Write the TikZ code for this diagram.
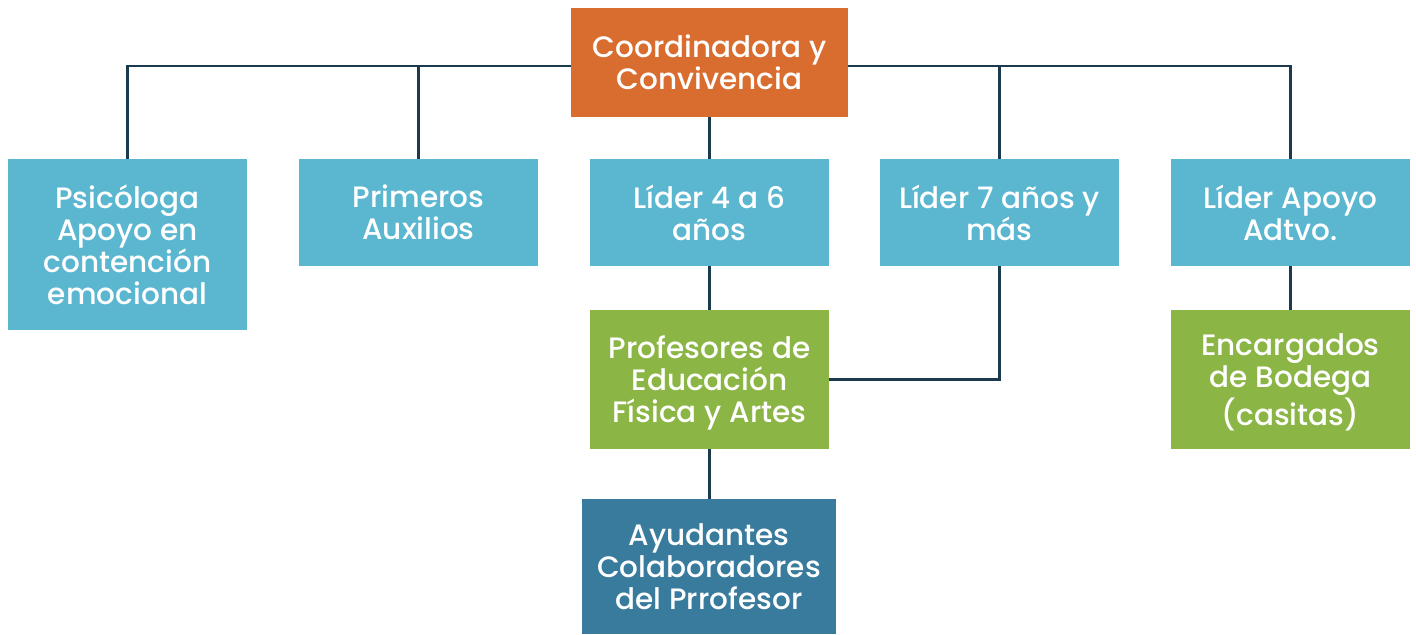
\documentclass[tikz,border=0pt]{standalone}
\usepackage{fontspec}
\setmainfont{Poppins}[UprightFont=* Medium]
\definecolor{cOrange}{HTML}{D96D2F}
\definecolor{cLight}{HTML}{5BB6D0}
\definecolor{cGreen}{HTML}{8BB545}
\definecolor{cDark}{HTML}{387B9C}
\definecolor{cLine}{HTML}{1C3A4E}
\begin{document}
\begin{tikzpicture}[x=0.02cm,y=-0.02cm,
  box/.style={rectangle, inner sep=0pt, align=center, text=white,
    font=\fontsize{16.8pt}{18.2pt}\selectfont, minimum width=4.78cm},
  lbox/.style={box, fill=cLight, minimum height=2.14cm},
  gbox/.style={box, text depth=-3pt, fill=cGreen, minimum height=2.78cm},
  conn/.style={draw=cLine, line width=1.4pt}]
\useasboundingbox (0,0) rectangle (1416,635);
\node[box, fill=cOrange, minimum width=5.54cm, minimum height=2.18cm] (coord) at (709.5,62.5) {Coordinadora y\\Convivencia};
\node[box, fill=cLight, minimum height=3.42cm] (psi) at (127.5,244.5) {Psicóloga\\Apoyo en\\contención\\emocional};
\node[lbox] (prim) at (418.5,212.5) {Primeros\\Auxilios};
\node[lbox] (l4) at (709.5,212.5) {Líder 4 a 6\\años};
\node[lbox] (l7) at (999.5,212.5) {Líder 7 años y\\más};
\node[lbox] (ap) at (1290.5,212.5) {Líder Apoyo\\Adtvo.};
\node[gbox] (prof) at (709.5,379.5) {Profesores de\\Educación\\Física y Artes};
\node[gbox] (enc) at (1290.5,379.5) {Encargados\\de Bodega\\(casitas)};
\node[box, text depth=-4.5pt, fill=cDark, minimum width=5.08cm, minimum height=2.7cm] (ayu) at (709,566.5) {Ayudantes\\Colaboradores\\del Prrofesor};
\coordinate (bus) at (709,66);
\draw[conn] (psi.north) -- (psi.north |- bus) -- (coord.west |- bus);
\draw[conn] (coord.east |- bus) -- (ap.north |- bus) -- (ap.north);
\draw[conn] (prim.north) -- (prim.north |- bus);
\draw[conn] (l7.north) -- (l7.north |- bus);
\draw[conn] (coord.south) -- (l4.north);
\draw[conn] (l4.south) -- (prof.north);
\draw[conn] (prof.south) -- (prof.south |- ayu.north);
\draw[conn] (prof.east) -| (l7.south);
\draw[conn] (ap.south) -- (enc.north);
\end{tikzpicture}
\end{document}
